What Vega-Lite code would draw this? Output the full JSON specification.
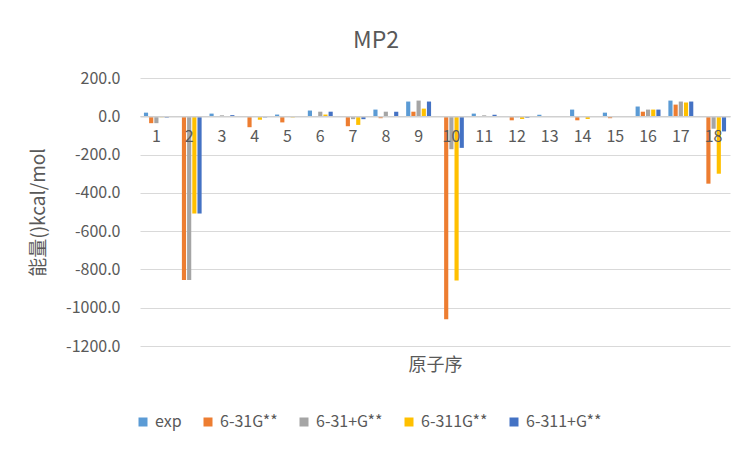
{
  "$schema": "https://vega.github.io/schema/vega-lite/v6.json",
  "width": 590,
  "height": 268,
  "autosize": {"type": "none"},
  "padding": {"left": 140, "top": 78, "right": 22, "bottom": 106},
  "background": "white",
  "config": {
    "view": {"stroke": null},
    "font": "Noto Sans CJK SC"
  },
  "title": {
    "text": "MP2",
    "fontSize": 23,
    "fontWeight": "normal",
    "color": "#595959",
    "offset": 17,
    "dx": -59
  },
  "data": {
    "values": [
      {"atom": 1, "method": "exp", "value": 19},
      {"atom": 1, "method": "6-31G**", "value": -36},
      {"atom": 1, "method": "6-31+G**", "value": -36},
      {"atom": 1, "method": "6-311G**", "value": -5},
      {"atom": 1, "method": "6-311+G**", "value": -7},
      {"atom": 2, "method": "exp", "value": 0},
      {"atom": 2, "method": "6-31G**", "value": -855},
      {"atom": 2, "method": "6-31+G**", "value": -855},
      {"atom": 2, "method": "6-311G**", "value": -508},
      {"atom": 2, "method": "6-311+G**", "value": -508},
      {"atom": 3, "method": "exp", "value": 14},
      {"atom": 3, "method": "6-31G**", "value": 0},
      {"atom": 3, "method": "6-31+G**", "value": 5},
      {"atom": 3, "method": "6-311G**", "value": 0},
      {"atom": 3, "method": "6-311+G**", "value": 6},
      {"atom": 4, "method": "exp", "value": 0},
      {"atom": 4, "method": "6-31G**", "value": -57},
      {"atom": 4, "method": "6-31+G**", "value": -4},
      {"atom": 4, "method": "6-311G**", "value": -18},
      {"atom": 4, "method": "6-311+G**", "value": -6},
      {"atom": 5, "method": "exp", "value": 9},
      {"atom": 5, "method": "6-31G**", "value": -32},
      {"atom": 5, "method": "6-31+G**", "value": 0},
      {"atom": 5, "method": "6-311G**", "value": -6},
      {"atom": 5, "method": "6-311+G**", "value": 0},
      {"atom": 6, "method": "exp", "value": 30},
      {"atom": 6, "method": "6-31G**", "value": 0},
      {"atom": 6, "method": "6-31+G**", "value": 24},
      {"atom": 6, "method": "6-311G**", "value": 9},
      {"atom": 6, "method": "6-311+G**", "value": 24},
      {"atom": 7, "method": "exp", "value": 0},
      {"atom": 7, "method": "6-31G**", "value": -52},
      {"atom": 7, "method": "6-31+G**", "value": -15},
      {"atom": 7, "method": "6-311G**", "value": -45},
      {"atom": 7, "method": "6-311+G**", "value": -15},
      {"atom": 8, "method": "exp", "value": 35},
      {"atom": 8, "method": "6-31G**", "value": -10},
      {"atom": 8, "method": "6-31+G**", "value": 24},
      {"atom": 8, "method": "6-311G**", "value": 0},
      {"atom": 8, "method": "6-311+G**", "value": 24},
      {"atom": 9, "method": "exp", "value": 77},
      {"atom": 9, "method": "6-31G**", "value": 24},
      {"atom": 9, "method": "6-31+G**", "value": 82},
      {"atom": 9, "method": "6-311G**", "value": 40},
      {"atom": 9, "method": "6-311+G**", "value": 77},
      {"atom": 10, "method": "exp", "value": 0},
      {"atom": 10, "method": "6-31G**", "value": -1060},
      {"atom": 10, "method": "6-31+G**", "value": -172},
      {"atom": 10, "method": "6-311G**", "value": -858},
      {"atom": 10, "method": "6-311+G**", "value": -165},
      {"atom": 11, "method": "exp", "value": 14},
      {"atom": 11, "method": "6-31G**", "value": 0},
      {"atom": 11, "method": "6-31+G**", "value": 5},
      {"atom": 11, "method": "6-311G**", "value": 0},
      {"atom": 11, "method": "6-311+G**", "value": 8},
      {"atom": 12, "method": "exp", "value": 0},
      {"atom": 12, "method": "6-31G**", "value": -21},
      {"atom": 12, "method": "6-31+G**", "value": -5},
      {"atom": 12, "method": "6-311G**", "value": -14},
      {"atom": 12, "method": "6-311+G**", "value": -8},
      {"atom": 13, "method": "exp", "value": 8},
      {"atom": 13, "method": "6-31G**", "value": 0},
      {"atom": 13, "method": "6-31+G**", "value": 0},
      {"atom": 13, "method": "6-311G**", "value": 0},
      {"atom": 13, "method": "6-311+G**", "value": 0},
      {"atom": 14, "method": "exp", "value": 35},
      {"atom": 14, "method": "6-31G**", "value": -21},
      {"atom": 14, "method": "6-31+G**", "value": 0},
      {"atom": 14, "method": "6-311G**", "value": -14},
      {"atom": 14, "method": "6-311+G**", "value": 0},
      {"atom": 15, "method": "exp", "value": 19},
      {"atom": 15, "method": "6-31G**", "value": -10},
      {"atom": 15, "method": "6-31+G**", "value": 0},
      {"atom": 15, "method": "6-311G**", "value": 0},
      {"atom": 15, "method": "6-311+G**", "value": 0},
      {"atom": 16, "method": "exp", "value": 51},
      {"atom": 16, "method": "6-31G**", "value": 24},
      {"atom": 16, "method": "6-31+G**", "value": 35},
      {"atom": 16, "method": "6-311G**", "value": 35},
      {"atom": 16, "method": "6-311+G**", "value": 35},
      {"atom": 17, "method": "exp", "value": 82},
      {"atom": 17, "method": "6-31G**", "value": 61},
      {"atom": 17, "method": "6-31+G**", "value": 77},
      {"atom": 17, "method": "6-311G**", "value": 72},
      {"atom": 17, "method": "6-311+G**", "value": 77},
      {"atom": 18, "method": "exp", "value": 0},
      {"atom": 18, "method": "6-31G**", "value": -352},
      {"atom": 18, "method": "6-31+G**", "value": -65},
      {"atom": 18, "method": "6-311G**", "value": -300},
      {"atom": 18, "method": "6-311+G**", "value": -79}
    ]
  },
  "mark": {"type": "bar"},
  "encoding": {
    "x": {
      "field": "atom",
      "type": "ordinal",
      "scale": {"paddingInner": 0.24, "paddingOuter": 0.12},
      "axis": {
        "title": "原子序",
        "titleFontSize": 18,
        "titleFontWeight": "normal",
        "titleColor": "#595959",
        "titlePadding": 212,
        "labelAngle": 0,
        "labelFontSize": 16,
        "labelColor": "#595959",
        "labelPadding": 12,
        "ticks": false,
        "domainColor": "#d0d0d0",
        "domainWidth": 1.5,
        "offset": -229.7,
        "zindex": 1
      }
    },
    "xOffset": {
      "field": "method",
      "type": "nominal",
      "sort": ["exp", "6-31G**", "6-31+G**", "6-311G**", "6-311+G**"],
      "scale": {"paddingInner": 0.2}
    },
    "y": {
      "field": "value",
      "type": "quantitative",
      "scale": {"domain": [-1200, 200], "nice": false},
      "axis": {
        "title": "能量()kcal/mol",
        "titleFontSize": 19,
        "titleFontWeight": "normal",
        "titleColor": "#595959",
        "titlePadding": 17,
        "values": [200, 0, -200, -400, -600, -800, -1000, -1200],
        "labelExpr": "(datum.value < 0 ? '-' : '') + format(abs(datum.value), '.1f')",
        "labelFontSize": 16,
        "labelColor": "#595959",
        "labelPadding": 20,
        "ticks": false,
        "domain": false,
        "gridColor": "#d9d9d9"
      }
    },
    "color": {
      "field": "method",
      "type": "nominal",
      "sort": ["exp", "6-31G**", "6-31+G**", "6-311G**", "6-311+G**"],
      "scale": {
        "domain": ["exp", "6-31G**", "6-31+G**", "6-311G**", "6-311+G**"],
        "range": ["#5B9BD5", "#ED7D31", "#A5A5A5", "#FFC000", "#4472C4"]
      },
      "legend": {
        "title": null,
        "orient": "none",
        "legendX": -5,
        "legendY": 336,
        "direction": "horizontal",
        "columns": 5,
        "symbolType": "square",
        "symbolSize": 81,
        "symbolStrokeWidth": 0,
        "labelFontSize": 16,
        "labelColor": "#595959",
        "labelOffset": 4,
        "columnPadding": 18
      }
    }
  }
}
